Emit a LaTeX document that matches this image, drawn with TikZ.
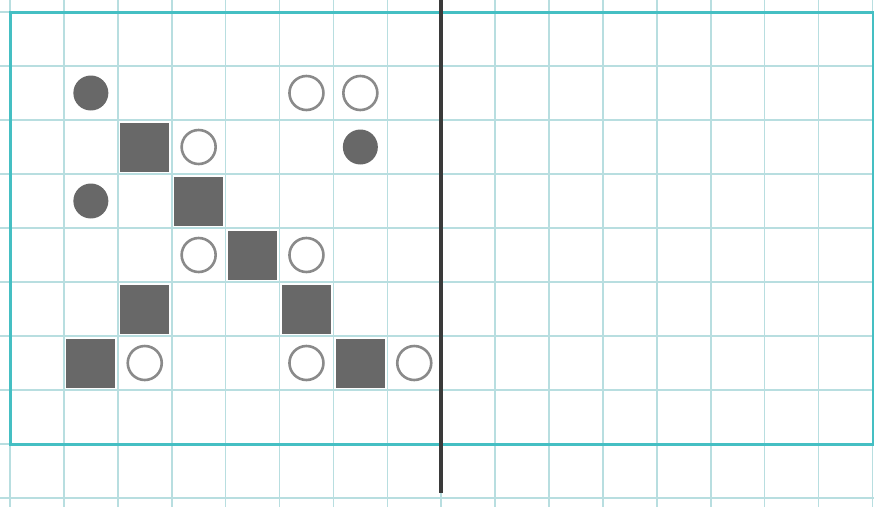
\documentclass[tikz,border=0pt]{standalone}
\begin{document}
\begin{tikzpicture}[x=1pt,y=-1pt,
  gridline/.style={draw=gridc,line width=1.6pt},
  frame/.style={draw=borderc,line width=3pt},
  divider/.style={draw=divc,line width=4pt},
  sq/.style={rectangle,fill=shapec,minimum size=49pt,inner sep=0pt},
  dot/.style={circle,fill=shapec,minimum size=35pt,inner sep=0pt},
  ring/.style={circle,draw=ringc,line width=2.6pt,fill=white,minimum size=34pt,inner sep=0pt}]
\definecolor{gridc}{HTML}{B8DEE0}
\definecolor{borderc}{HTML}{45BFC3}
\definecolor{divc}{HTML}{3A3A3A}
\definecolor{shapec}{HTML}{686868}
\definecolor{ringc}{HTML}{8A8A8A}
\useasboundingbox (0,0) rectangle (874,507);
\clip (0,0) rectangle (874,507);
\fill[white] (0,0) rectangle (874,507);
\foreach \k in {0,...,16} \draw[gridline] ({10+53.9*\k},0) -- ({10+53.9*\k},507);
\foreach \j in {0,...,9} \draw[gridline] (0,{12+54*\j}) -- (874,{12+54*\j});
\draw[frame] (10,12) rectangle (873,444);
\coordinate (dtop) at (441,0);
\coordinate (dbot) at (441,493);
\draw[divider] (dtop) -- (dbot);
% shapes: cell (c,r) center
\newcommand{\cx}[1]{10+53.9*(#1+0.5)}
\newcommand{\cy}[1]{12+54*(#1+0.5)}
% row 1
\node[dot]  (d11) at ({\cx{1}},{\cy{1}}) {};
\node[ring] (r51) at ({\cx{5}},{\cy{1}}) {};
\node[ring] (r61) at ({\cx{6}},{\cy{1}}) {};
% row 2
\node[sq]   (s22) at ({\cx{2}},{\cy{2}}) {};
\node[ring] (r32) at ({\cx{3}},{\cy{2}}) {};
\node[dot]  (d62) at ({\cx{6}},{\cy{2}}) {};
% row 3
\node[dot]  (d13) at ({\cx{1}},{\cy{3}}) {};
\node[sq]   (s33) at ({\cx{3}},{\cy{3}}) {};
% row 4
\node[ring] (r34) at ({\cx{3}},{\cy{4}}) {};
\node[sq]   (s44) at ({\cx{4}},{\cy{4}}) {};
\node[ring] (r54) at ({\cx{5}},{\cy{4}}) {};
% row 5
\node[sq]   (s25) at ({\cx{2}},{\cy{5}}) {};
\node[sq]   (s55) at ({\cx{5}},{\cy{5}}) {};
% row 6
\node[sq]   (s16) at ({\cx{1}},{\cy{6}}) {};
\node[ring] (r26) at ({\cx{2}},{\cy{6}}) {};
\node[ring] (r56) at ({\cx{5}},{\cy{6}}) {};
\node[sq]   (s66) at ({\cx{6}},{\cy{6}}) {};
\node[ring] (r76) at ({\cx{7}},{\cy{6}}) {};
\end{tikzpicture}
\end{document}
